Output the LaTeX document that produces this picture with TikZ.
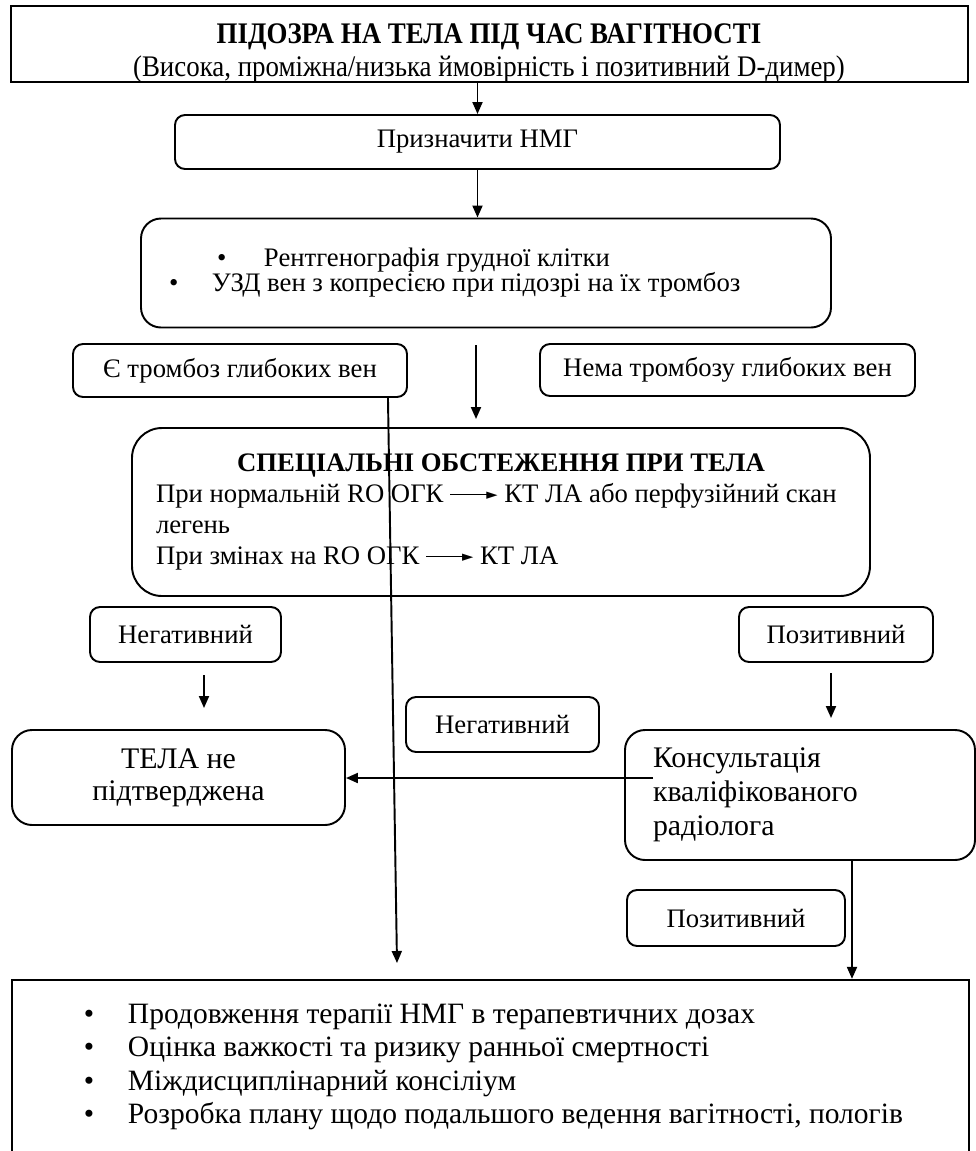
\documentclass[tikz,border=0pt]{standalone}
\usepackage{fontspec}
\setmainfont{Liberation Serif}
\newfontfamily\symbfont{DejaVu Sans}
\usetikzlibrary{arrows.meta}
\usetikzlibrary{calc}
\setlength{\parindent}{0pt}
\newdimen\ux
\ux=0.2mm
\def\txtsz{\fontsize{15.2}{16.5}\selectfont}
\def\bigsz{\fontsize{17}{19.4}\selectfont}
\def\listsz{\fontsize{16.8}{19}\selectfont}
\def\headsz{\fontsize{17}{19}\selectfont}
\newcommand{\ogkarrow}{\rule[0.3em]{1.6em}{0.5pt}\kern-0.25em\raisebox{0.12em}{\symbfont\scalebox{0.55}{►}}}

\begin{document}
\begin{tikzpicture}[x=0.2mm, y=-0.2mm, line width=1.1pt,
		box/.style={draw, rectangle, inner sep=0pt, align=center, font=\txtsz},
		rbox/.style={box, rounded corners=2mm},
		arr/.style={-{Triangle[length=2.4mm,width=2mm]}}]
	\useasboundingbox (0,0) rectangle (976,1151);
	\begin{scope}
		\clip (11,6) rectangle (968,82);
		\node[anchor=base, font=\headsz] (susptitle) at (489,43)
			{\scalebox{0.9}[1]{\bfseries ПІДОЗРА НА ТЕЛА ПІД ЧАС ВАГІТНОСТІ}};
		\node[anchor=base, font=\headsz] (suspsub) at (489,76)
			{\scalebox{0.9}[1]{(Висока, проміжна/низька ймовірність і позитивний D-димер)}};
	\end{scope}
	\node[box, line width=1.3pt, minimum width=957\ux, minimum height=76\ux] (susp) at (489.5,44) {};
	\node[rbox, minimum width=605\ux, minimum height=54\ux] (nmg) at (477.5,142) {Призначити НМГ};
	\node[rbox, rounded corners=4mm, minimum width=690\ux, minimum height=109\ux, text width=690\ux, align=flush left,
		font=\fontsize{15.2}{14.2}\selectfont] (xray) at (486,273)
		{\hspace*{76\ux}\makebox[47\ux][l]{•}Рентгенографія грудної клітки\\
		 \hspace*{28\ux}\makebox[43\ux][l]{•}УЗД вен з копресією при підозрі на їх тромбоз};
	\node[rbox, minimum width=334\ux, minimum height=53\ux] (dvt) at (240,370.5) {Є тромбоз глибоких вен};
	\node[rbox, minimum width=375\ux, minimum height=52\ux] (nodvt) at (727.5,370) {Нема тромбозу глибоких вен};
	\node[rbox, rounded corners=6mm, minimum width=738\ux, minimum height=168\ux, text width=690\ux, align=flush left,
		font=\fontsize{15.2}{17.6}\selectfont] (spec) at (501,512)
		{\makebox[\hsize]{\bfseries СПЕЦІАЛЬНІ ОБСТЕЖЕННЯ ПРИ ТЕЛА}\\
		 При нормальній RO ОГК \ogkarrow{} КТ ЛА або перфузійний скан\\
		 легень\\
		 При змінах на RO ОГК \ogkarrow{} КТ ЛА};
	\node[rbox, minimum width=191\ux, minimum height=55\ux] (neg) at (185.5,634.5) {Негативний};
	\node[rbox, minimum width=194\ux, minimum height=55\ux] (pos) at (836,634.5) {Позитивний};
	\node[rbox, minimum width=193\ux, minimum height=55\ux] (negmid) at (502.5,724.5) {Негативний};
	\node[rbox, rounded corners=4mm, minimum width=333\ux, minimum height=95\ux, font=\fontsize{17}{18.2}\selectfont] (nope) at (178.5,777.5)
		{ТЕЛА не\\підтверджена};
	\node[rbox, rounded corners=4mm, minimum width=350\ux, minimum height=130\ux, text width=294\ux, align=flush left, font=\bigsz] (radio) at (800,795)
		{Консультація\\кваліфікованого\\радіолога};
	\node[rbox, minimum width=218\ux, minimum height=56\ux] (posmid) at (736,918) {Позитивний};
	\node[box, line width=1.3pt, minimum width=957\ux, minimum height=174\ux, text width=957\ux, align=flush left, font=\listsz] (treat) at (490.5,1067)
		{\hspace*{72\ux}\makebox[44\ux][l]{•}Продовження терапії НМГ в терапевтичних дозах\\
		 \hspace*{72\ux}\makebox[44\ux][l]{•}Оцінка важкості та ризику ранньої смертності\\
		 \hspace*{72\ux}\makebox[44\ux][l]{•}Міждисциплінарний консіліум\\
		 \hspace*{72\ux}\makebox[44\ux][l]{•}Розробка плану щодо подальшого ведення вагітності, пологів};

	\coordinate (xraygap) at (476,345);
	\coordinate (specgap) at (476,419);
	\coordinate (dvtend) at (397,963);
	\coordinate (negdown) at (204,675);
	\coordinate (negend) at (204,708);
	\coordinate (posdown) at (831,673);
	\coordinate (posend) at (831,718);
	\coordinate (radiotxt) at (653,778);
	\coordinate (raddown) at ($(radio.south)+(52,0)$);

	\draw[arr] (nmg.north |- susp.south) -- (nmg.north);
	\draw[arr] (nmg.south) -- (nmg.south |- xray.north);
	\draw[arr] (xraygap) -- (specgap);
	\draw[arr] ($(dvt.south east)+(-20,0)$) -- (dvtend);
	\draw[arr] (negdown) -- (negend);
	\draw[arr] (posdown) -- (posend);
	\draw[arr] (radiotxt) -- (radiotxt -| nope.east);
	\draw[arr] (raddown) -- (raddown |- treat.north);
\end{tikzpicture}
\end{document}
